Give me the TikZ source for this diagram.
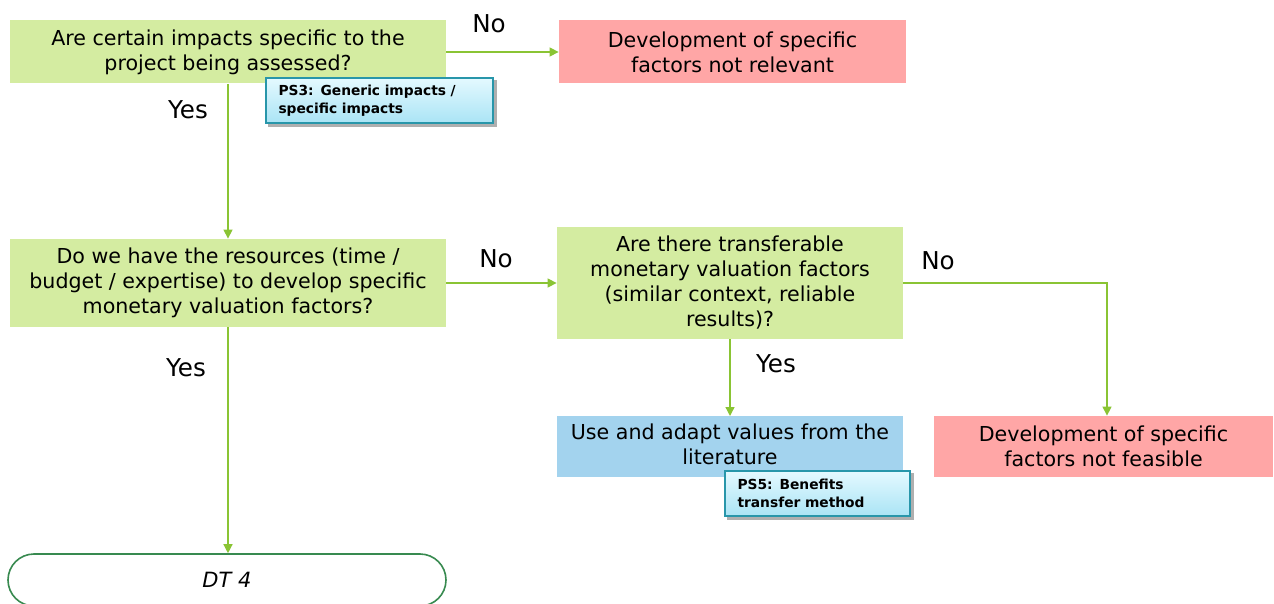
\documentclass[tikz,border=0pt]{standalone}
\usepackage{fontspec}
\setmainfont{DejaVu Sans}
\usetikzlibrary{arrows.meta,backgrounds}
\definecolor{qgreen}{RGB}{212,236,161}
\definecolor{rpink}{RGB}{255,166,166}
\definecolor{lblue}{RGB}{163,211,238}
\definecolor{arrowgreen}{RGB}{138,196,52}
\definecolor{dtgreen}{RGB}{56,138,80}
\definecolor{noteborder}{RGB}{40,150,170}
\definecolor{notetop}{RGB}{228,249,255}
\definecolor{notebot}{RGB}{170,228,245}
\definecolor{shadowgrey}{RGB}{175,175,175}
\tikzset{
  box/.style={inner sep=0pt, align=center, font=\fontsize{10.3}{12.5}\selectfont},
  qbox/.style={box, fill=qgreen},
  rbox/.style={box, fill=rpink},
  bbox/.style={box, fill=lblue},
  notebox/.style={draw=noteborder, line width=0.6pt, top color=notetop, bottom color=notebot,
     align=left, inner sep=0pt,
     font=\fontsize{6.9}{9}\selectfont\bfseries},
  noteshadow/.style={fill=shadowgrey},
  lbl/.style={font=\fontsize{12.3}{14}\selectfont},
  conn/.style={draw=arrowgreen, line width=0.65pt},
  arr/.style={conn, -{Triangle[width=4.5pt,length=4.5pt]}},
}
\begin{document}
\begin{tikzpicture}[x=0.5pt,y=-0.5pt]
\useasboundingbox (0,0) rectangle (1274,604);
\begin{scope}
\clip (0,0) rectangle (1274,604);
\node[qbox, minimum width=218pt, minimum height=31.5pt] (q1) at (228,52)
  {Are certain impacts specific to the\\project being assessed?};
\node[rbox, minimum width=173.5pt, minimum height=31.5pt] (r1) at (732.5,52)
  {Development of specific\\factors not relevant};
\node[qbox, minimum width=218pt, minimum height=44pt] (q2) at (228,283)
  {Do we have the resources (time /\\budget / expertise) to develop specific\\monetary valuation factors?};
\node[qbox, minimum width=173pt, minimum height=56pt] (q3) at (730,283)
  {Are there transferable\\monetary valuation factors\\(similar context, reliable\\results)?};
\node[bbox, minimum width=173pt, minimum height=30.5pt, anchor=north] (b1) at (730,416)
  {\raisebox{2pt}{\begin{tabular}{@{}c@{}}Use and adapt values from the\\literature\end{tabular}}};
\node[rbox, minimum width=169.5pt, minimum height=30.5pt] (r2) at (1103.5,446.5)
  {Development of specific\\factors not feasible};
\node[draw=dtgreen, line width=0.8pt, rounded corners=13pt, minimum width=219pt, minimum height=26pt,
  inner sep=0pt, font=\fontsize{10.5}{12}\selectfont\itshape] (dt) at (227,580) {DT 4};
\node[notebox, minimum width=113.5pt, minimum height=22.5pt, text width=101pt] (ps3) at (379.5,100.5)
  {PS3: Generic impacts /\\specific impacts};
\node[notebox, minimum width=92.5pt, minimum height=22.5pt, text width=80pt] (ps5) at (817.5,493.5)
  {PS5: Benefits\\transfer method};
\begin{scope}[on background layer]
  \fill[noteshadow] ([shift={(3,3)}]ps3.north west) rectangle ([shift={(3,3)}]ps3.south east);
  \fill[noteshadow] ([shift={(3,3)}]ps5.north west) rectangle ([shift={(3,3)}]ps5.south east);
\end{scope}
\draw[arr] (q1.east) -- (r1.west);
\draw[arr] (q1.south) -- (q2.north);
\draw[arr] (q2.east) -- (q3.west);
\draw[arr] (q2.south) -- (q2.south |- dt.north);
\draw[arr] (q3.south) -- (b1.north);
\coordinate (corner) at (1107,283);
\draw[arr] (q3.east) -- (corner) -- (corner |- r2.north);
\node[lbl] (no1) at (489,24) {No};
\node[lbl] (yes1) at (188,110) {Yes};
\node[lbl] (no2) at (496,259) {No};
\node[lbl] (yes2) at (186,368) {Yes};
\node[lbl] (no3) at (938,261) {No};
\node[lbl] (yes3) at (776,364) {Yes};
\end{scope}
\end{tikzpicture}
\end{document}
